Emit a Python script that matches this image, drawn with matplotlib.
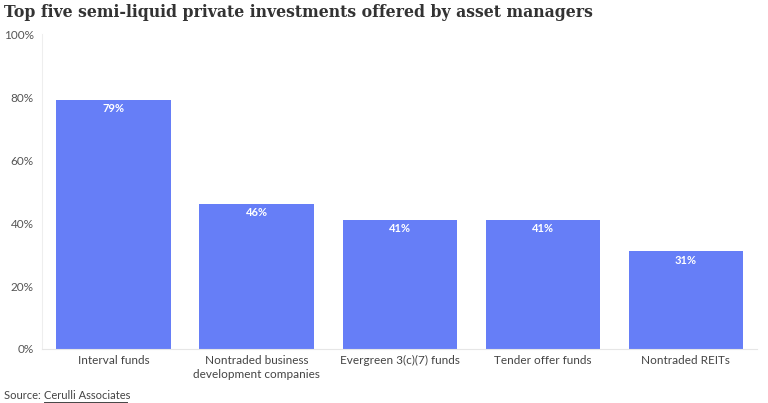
import matplotlib.pyplot as plt
import numpy as np

categories = ['Interval funds', 'Nontraded business\ndevelopment companies',
              'Evergreen 3(c)(7) funds', 'Tender offer funds', 'Nontraded REITs']
values = [79, 46, 41, 41, 31]
yticks = [0, 20, 40, 60, 80, 100]

bar_color = '#667ef7'
text_color = '#555555'

fig = plt.figure(figsize=(7.68, 4.03), dpi=100)
ax = fig.add_axes([0.0547, 0.134, 0.9316, 0.7816])

x = np.arange(len(categories))
bars = ax.bar(x, values, width=0.8, color=bar_color)

for xi, v in zip(x, values):
    ax.text(xi, v - 1.0, f'{v}%', ha='center', va='top', color='white',
            fontsize=8, family='Lato', fontweight='bold')

ax.set_xlim(-0.5, len(categories) - 0.5)
ax.set_ylim(0, 100)
ax.set_yticks(yticks)
ax.set_yticklabels([f'{t}%' for t in yticks], family='Lato', fontsize=8.5, color=text_color)
ax.set_xticks(x)
ax.set_xticklabels(categories, family='Lato', fontsize=8.5, color='#444444', linespacing=1.35)
ax.tick_params(axis='y', length=0, pad=6)
ax.tick_params(axis='x', length=0, pad=4)

for s in ['top', 'right']:
    ax.spines[s].set_visible(False)
ax.spines['left'].set_color('#eeeeee')
ax.spines['bottom'].set_color('#e6e6e6')

fig.text(0.005, 0.97, 'Top five semi-liquid private investments offered by asset managers',
         family='DejaVu Serif', fontweight='bold', fontsize=11.3, color='#333333', va='center')
fig.text(0.005, 0.004, 'Source: ', family='Lato', fontsize=8, color='#444444', va='bottom')
fig.text(0.057, 0.004, 'Cerulli Associates', family='Lato', fontsize=8, color='#444444', va='bottom')
fig.lines.append(plt.Line2D([0.057, 0.166], [0.002, 0.002], transform=fig.transFigure,
                            color='#444444', linewidth=0.7))

fig.savefig('out.png', dpi=100)
